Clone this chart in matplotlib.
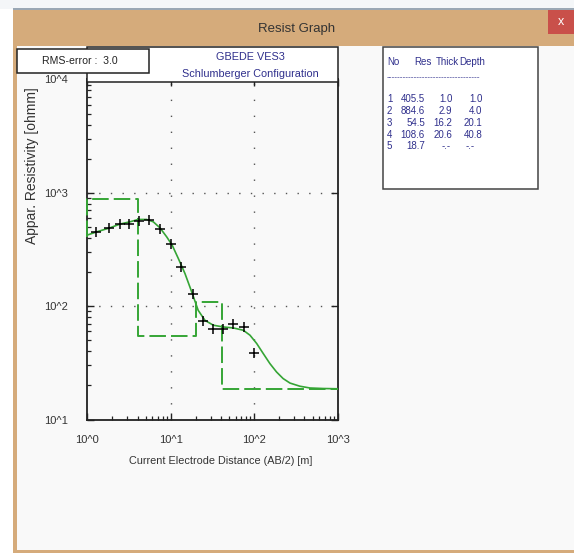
import numpy as np
import matplotlib
matplotlib.use("Agg")
import matplotlib.pyplot as plt
from matplotlib.patches import Rectangle
from matplotlib.ticker import FixedLocator, FuncFormatter, NullFormatter

# ---- data ---------------------------------------------------------------
# field measurements: half electrode spacing AB/2 [m] and apparent resistivity [ohm.m]
ab2 = [1.28, 1.83, 2.46, 3.16, 4.2, 5.55, 7.5, 10.0, 13.1, 18.3, 24.5, 31.7, 42.5, 55.1, 75.0, 100.0]
rho_obs = [453, 485, 528, 528, 566, 580, 478, 357, 223, 127, 74, 63.5, 63.5, 69.4, 65.6, 38.7]

# model response curve
curve_ab2 = [1.0, 1.30, 1.87, 2.46, 3.25, 4.08, 5.14, 6.17, 7.42, 8.93, 10.4, 12.3, 14.8, 17.8,
             21.3, 25.7, 32.3, 42.5, 56.1, 73.8, 88.9, 107, 128, 154, 185, 222, 268, 352, 465, 670, 1000]
curve_rho = [424, 453, 491, 530, 555, 582, 582, 555, 491, 409, 345, 264, 194, 134,
             92, 75, 68, 65.6, 64.3, 61.4, 55.5, 46.9, 38.3, 31.2, 26.3, 23.0, 21.0, 19.7, 19.0, 18.8, 18.7]

# layered model
layer_no = [1, 2, 3, 4, 5]
layer_res = [405.5, 884.6, 54.5, 108.6, 18.7]
layer_thick = [1.0, 2.9, 16.2, 20.6]
layer_depth = [1.0, 4.0, 20.1, 40.8]
rms_error = 3.0

x_decades = [0, 1, 2, 3]
y_decades = [1, 2, 3, 4]

# ---- figure -------------------------------------------------------------
W, H = 574, 554
plt.rcParams['font.family'] = ['Liberation Sans', 'DejaVu Sans']

fig = plt.figure(figsize=(W / 100, H / 100), dpi=100)
fig.patch.set_facecolor('white')


def fx(px):
    return px / W


def fy(py):
    return 1 - py / H


def rect(x0, y0, x1, y1, **kw):
    r = Rectangle((fx(x0), fy(y1)), fx(x1) - fx(x0), fy(y0) - fy(y1),
                  transform=fig.transFigure, **kw)
    fig.add_artist(r)
    return r


# window frame
TAN = '#D5AB7B'
rect(0, 0, W, 9, facecolor='#F4F6F8', edgecolor='none', zorder=0.5)
rect(13, 8, W, 10, facecolor='#9AA7B4', edgecolor='none', zorder=0.6)
rect(13, 10, W, 46, facecolor=TAN, edgecolor='none', zorder=0.6)
rect(13, 10, 17, 553, facecolor=TAN, edgecolor='none', zorder=0.6)
rect(13, 550, W, 553, facecolor=TAN, edgecolor='none', zorder=0.6)
rect(17, 46, W, 550, facecolor='#F9F9F9', edgecolor='none', zorder=0.55)
rect(548, 10, W, 34, facecolor='#C9504A', edgecolor='none', zorder=0.7)
fig.text(fx(561), fy(22), 'x', color='white', fontsize=9, ha='center', va='center', zorder=3)
fig.text(fx(297), fy(29), 'Resist Graph', color='#333333', fontsize=9.5,
         ha='center', va='center', zorder=3)

# ---- plot ---------------------------------------------------------------
ax_l, ax_r, ax_t, ax_b = 87.3, 337.7, 79.4, 419.6
ax = fig.add_axes([fx(ax_l), fy(ax_b), fx(ax_r) - fx(ax_l), fy(ax_t) - fy(ax_b)])
ax.set_zorder(1)
ax.set_facecolor('none')
ax.set_xscale('log')
ax.set_yscale('log')
ax.set_xlim(10 ** x_decades[0], 10 ** x_decades[-1])
ax.set_ylim(10 ** y_decades[0], 10 ** y_decades[-1])

GREEN = '#35A535'

# layered model as step line
step_x = [ax.get_xlim()[0], layer_depth[0]]
step_y = [layer_res[0], layer_res[0]]
for i, d in enumerate(layer_depth):
    nxt = layer_depth[i + 1] if i + 1 < len(layer_depth) else ax.get_xlim()[1]
    step_x += [d, nxt]
    step_y += [layer_res[i + 1], layer_res[i + 1]]
ax.plot(step_x, step_y, color=GREEN, lw=1.4, linestyle=(0, (8.5, 2.6)), zorder=3, clip_on=False)

ax.plot(curve_ab2, curve_rho, color=GREEN, lw=1.2, zorder=4)
ax.plot(ab2, rho_obs, linestyle='none', marker='+', color='black', ms=7, mew=1.1, zorder=5)

# grid at the inner decades
for d in x_decades[1:-1]:
    ax.axvline(10 ** d, color='#555555', lw=1.0, linestyle=(0, (1, 10.5)), zorder=1)
for d in y_decades[1:-1]:
    ax.axhline(10 ** d, color='#555555', lw=1.0, linestyle=(0, (1, 7.4)), zorder=1)

for s in ax.spines.values():
    s.set_color('#222222')
    s.set_linewidth(1.3)

decade_fmt = FuncFormatter(lambda v, p: '10^%d' % int(round(np.log10(v))))
ax.xaxis.set_major_locator(FixedLocator([10.0 ** d for d in x_decades]))
ax.yaxis.set_major_locator(FixedLocator([10.0 ** d for d in y_decades]))
ax.xaxis.set_major_formatter(decade_fmt)
ax.yaxis.set_major_formatter(decade_fmt)
ax.xaxis.set_minor_formatter(NullFormatter())
ax.yaxis.set_minor_formatter(NullFormatter())
ax.tick_params(which='major', direction='in', length=5, width=1, color='#222222',
               top=True, right=True, labelsize=8, labelcolor='#333333')
ax.tick_params(axis='x', which='major', pad=11)
ax.tick_params(axis='y', which='major', pad=14)
ax.tick_params(which='minor', direction='in', length=3, width=0.9, color='#222222',
               top=False, right=False)

fig.text(fx(221), fy(461), 'Current Electrode Distance (AB/2) [m]', color='#333333',
         fontsize=7.8, ha='center', va='center')
fig.text(fx(32), fy(166), 'Appar. Resistivity [ohmm]', color='#333333',
         fontsize=10, ha='center', va='center', rotation=90)

# header box with survey name
NAVY = '#2F2F8C'
rect(87.3, 47, ax_r, 82, facecolor='white', edgecolor='#222222', lw=1.1, zorder=2)
fig.text(fx(250), fy(57), 'GBEDE VES3', color=NAVY, fontsize=7.8, ha='center', va='center', zorder=4)
fig.text(fx(250), fy(74), 'Schlumberger Configuration', color=NAVY, fontsize=7.8,
         ha='center', va='center', zorder=4)

# RMS box
rect(17, 49, 149, 73, facecolor='white', edgecolor='#222222', lw=1.1, zorder=2.5)
fig.text(fx(80), fy(61), 'RMS-error :  %.1f' % rms_error, color='#222222', fontsize=7.6,
         ha='center', va='center', zorder=4)

# layer table
TS = 7.0
rect(383, 47, 538, 189, facecolor='white', edgecolor='#444444', lw=1.1, zorder=2)
fig.text(fx(387), fy(62), 'No', color=NAVY, fontsize=TS, ha='left', va='center', zorder=4)
fig.text(fx(423), fy(62), 'Res', color=NAVY, fontsize=TS, ha='center', va='center', zorder=4)
fig.text(fx(447), fy(62), 'Thick', color=NAVY, fontsize=TS, ha='center', va='center', zorder=4)
fig.text(fx(472), fy(62), 'Depth', color=NAVY, fontsize=TS, ha='center', va='center', zorder=4)
fig.text(fx(387), fy(78), '-' * 34, color=NAVY, fontsize=6, ha='left', va='center', zorder=4)

row_y = [99, 111, 123, 134.5, 146]
for i, n in enumerate(layer_no):
    y = fy(row_y[i])
    fig.text(fx(387), y, str(n), color=NAVY, fontsize=TS, ha='left', va='center', zorder=4)
    fig.text(fx(425), y, '%.1f' % layer_res[i], color=NAVY, fontsize=TS, ha='right', va='center', zorder=4)
    if i < len(layer_thick):
        fig.text(fx(452.5), y, '%.1f' % layer_thick[i], color=NAVY, fontsize=TS, ha='right', va='center', zorder=4)
        fig.text(fx(482.5), y, '%.1f' % layer_depth[i], color=NAVY, fontsize=TS, ha='right', va='center', zorder=4)
    else:
        fig.text(fx(442), y, '-.-', color=NAVY, fontsize=TS, ha='left', va='center', zorder=4)
        fig.text(fx(466), y, '-.-', color=NAVY, fontsize=TS, ha='left', va='center', zorder=4)

fig.savefig('out.png', dpi=100)
